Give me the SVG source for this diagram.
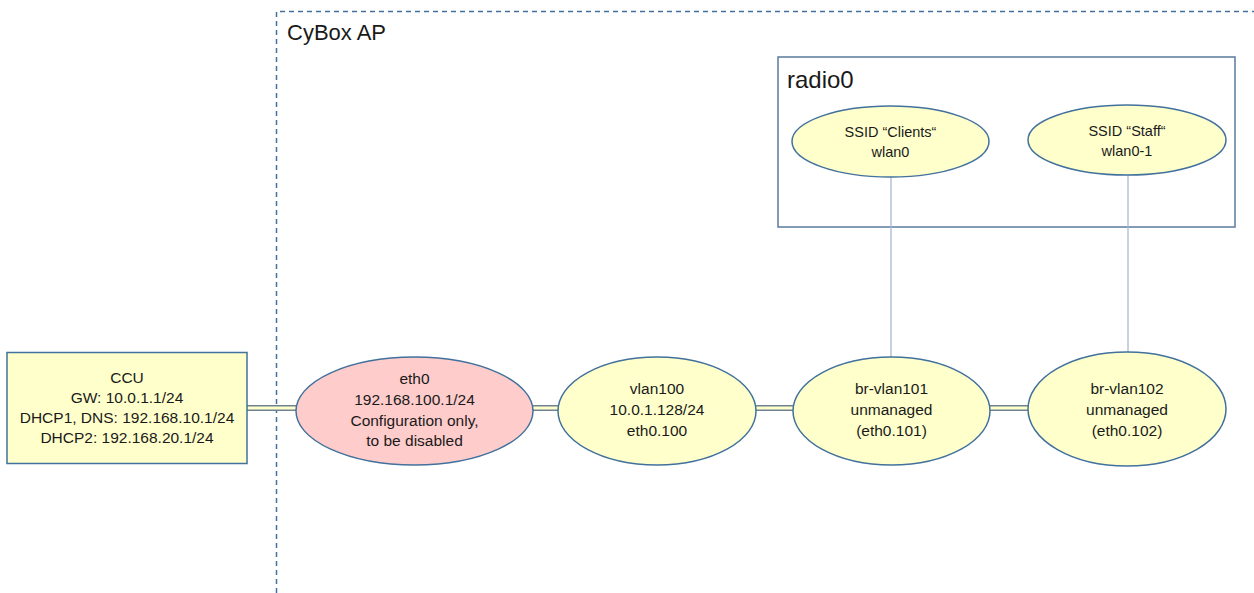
<svg xmlns="http://www.w3.org/2000/svg" width="1254" height="593" viewBox="0 0 1254 593">
<style>
text{font-family:"Liberation Sans",Arial,sans-serif;fill:#1a1a1a;text-anchor:middle;font-size:15.5px}
.t{text-anchor:start}
.s{font-size:14.5px}
.node{fill:#FFFFCC;stroke:#41719C;stroke-width:1.5}
.pink{fill:#FFCCCC;stroke:#41719C;stroke-width:1.5}
.co{stroke:#6F8296;stroke-width:6;fill:none}
.ci{stroke:#FFFFC8;stroke-width:3;fill:none}
.vl{stroke:#A9BBD0;stroke-width:1.3;fill:none}
</style>
<rect width="1254" height="593" fill="#fff"/>
<g id="cybox">
<path d="M276.5 593 V11.5 H1254" fill="none" stroke="#41719C" stroke-width="1.5" stroke-dasharray="5,4"/>
<text class="t" x="287" y="40" style="font-size:22px">CyBox AP</text>
</g>
<g id="radio0">
<rect x="778" y="57" width="457" height="170" fill="none" stroke="#5A7A9C" stroke-width="1.5"/>
<text class="t" x="787" y="88" style="font-size:24px">radio0</text>
</g>
<g id="connectors">
<path class="co" d="M247 408H296M533 408H558M756 408H793M990 408H1028"/>
<path class="ci" d="M247 408H296M533 408H558M756 408H793M990 408H1028"/>
<path class="vl" d="M891 177V358M1128 175V352"/>
</g>
<g id="ccu">
<rect x="7" y="352.5" width="240" height="111" class="node"/>
<text x="127" y="383">CCU</text>
<text x="127" y="403">GW: 10.0.1.1/24</text>
<text x="127" y="423">DHCP1, DNS: 192.168.10.1/24</text>
<text x="127" y="443">DHCP2: 192.168.20.1/24</text>
</g>
<g id="eth0">
<ellipse cx="414.5" cy="411" rx="118.5" ry="54" class="pink"/>
<text x="414.5" y="384">eth0</text>
<text x="414.5" y="405">192.168.100.1/24</text>
<text x="414.5" y="426">Configuration only,</text>
<text x="414.5" y="446">to be disabled</text>
</g>
<g id="vlan100">
<ellipse cx="657" cy="411" rx="99" ry="54" class="node"/>
<text x="657" y="394">vlan100</text>
<text x="657" y="415">10.0.1.128/24</text>
<text x="657" y="436">eth0.100</text>
</g>
<g id="brvlan101">
<ellipse cx="891.5" cy="411" rx="98.5" ry="54" class="node"/>
<text x="891.5" y="394">br-vlan101</text>
<text x="891.5" y="415">unmanaged</text>
<text x="891.5" y="436">(eth0.101)</text>
</g>
<g id="brvlan102">
<ellipse cx="1127" cy="409" rx="99" ry="57" class="node"/>
<text x="1127" y="394">br-vlan102</text>
<text x="1127" y="415">unmanaged</text>
<text x="1127" y="436">(eth0.102)</text>
</g>
<g id="ssidclients">
<ellipse cx="890.5" cy="141.5" rx="98.5" ry="35.5" class="node"/>
<text class="s" x="890.5" y="137">SSID “Clients“</text>
<text class="s" x="890.5" y="157">wlan0</text>
</g>
<g id="ssidstaff">
<ellipse cx="1127" cy="140" rx="99" ry="35" class="node"/>
<text class="s" x="1127" y="136">SSID “Staff“</text>
<text class="s" x="1127" y="156">wlan0-1</text>
</g>
</svg>
